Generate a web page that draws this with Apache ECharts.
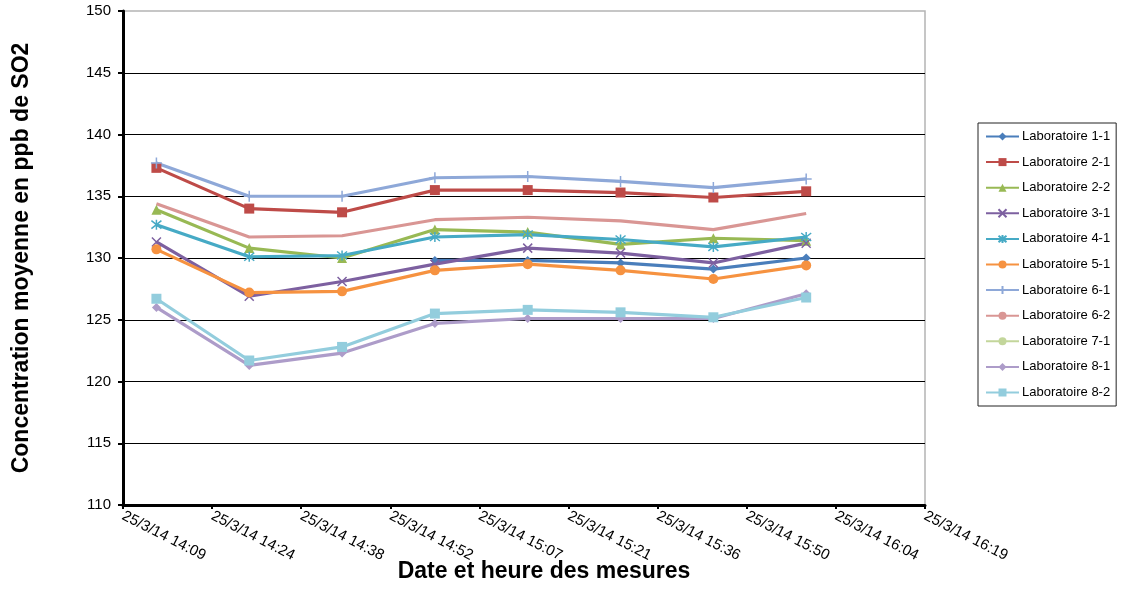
<!DOCTYPE html>
<html>
<head>
<meta charset="utf-8">
<script src="https://cdn.jsdelivr.net/npm/echarts@6/dist/echarts.min.js"></script>
<style>
  html, body { margin: 0; padding: 0; background: #fff; }
  #chart { width: 1123px; height: 590px; }
</style>
</head>
<body>
<div id="chart"></div>
<script>
// Measurement times (25/3/14) and mean SO2 concentrations in ppb per laboratory
const measureDate = '25/3/14';
const measureTimes = ['14:15', '14:30', '14:45', '15:00', '15:15', '15:30', '15:45', '16:00'];

const lab11 = [null, null, null, 129.8, 129.8, 129.6, 129.1, 130.0];
const lab21 = [137.3, 134.0, 133.7, 135.5, 135.5, 135.3, 134.9, 135.4];
const lab22 = [133.9, 130.8, 130.0, 132.3, 132.1, 131.1, 131.6, 131.4];
const lab31 = [131.3, 126.9, 128.1, 129.5, 130.8, 130.4, 129.6, 131.2];
const lab41 = [132.7, 130.1, 130.2, 131.7, 131.9, 131.5, 130.9, 131.7];
const lab51 = [130.7, 127.2, 127.3, 129.0, 129.5, 129.0, 128.3, 129.4];
const lab61 = [137.7, 135.0, 135.0, 136.5, 136.6, 136.2, 135.7, 136.4];
const lab62 = [134.4, 131.7, 131.8, 133.1, 133.3, 133.0, 132.3, 133.6];
const lab71 = [];
const lab81 = [126.0, 121.3, 122.3, 124.7, 125.1, 125.1, 125.1, 127.1];
const lab82 = [126.7, 121.7, 122.8, 125.5, 125.8, 125.6, 125.2, 126.8];

// Time axis runs in hundredths of a day (1 unit = 14.4 minutes)
const UNIT_MIN = 14.4;
function toUnits(hhmm) {
  const [h, m] = hhmm.split(':').map(Number);
  return (h * 60 + m) / UNIT_MIN;
}
function unitLabel(v) {
  const mins = Math.floor(Math.round(v * UNIT_MIN * 1000) / 1000 + 1e-9);
  const h = Math.floor(mins / 60);
  const m = mins % 60;
  return measureDate + ' ' + h + ':' + (m < 10 ? '0' : '') + m;
}

const SYM_X = 'path://M0,0L10,10M10,0L0,10';
const SYM_STAR = 'path://M1,1L9,9M9,1L1,9M5,0L5,10';
const SYM_PLUS = 'path://M5,0L5,10M0,5L10,5';

const seriesDefs = [
  { name: 'Laboratoire 1-1', data: lab11, color: '#4A7EBB', symbol: 'diamond', size: 9 },
  { name: 'Laboratoire 2-1', data: lab21, color: '#BE4B48', symbol: 'rect', size: 10 },
  { name: 'Laboratoire 2-2', data: lab22, color: '#98B954', symbol: 'triangle', size: 10 },
  { name: 'Laboratoire 3-1', data: lab31, color: '#7D60A0', symbol: SYM_X, size: 9, stroke: true },
  { name: 'Laboratoire 4-1', data: lab41, color: '#46AAC5', symbol: SYM_STAR, size: 10, stroke: true },
  { name: 'Laboratoire 5-1', data: lab51, color: '#F69240', symbol: 'circle', size: 10 },
  { name: 'Laboratoire 6-1', data: lab61, color: '#8EA8D8', symbol: SYM_PLUS, size: 11, stroke: true },
  { name: 'Laboratoire 6-2', data: lab62, color: '#D99694', symbol: 'none', size: 0 },
  { name: 'Laboratoire 7-1', data: lab71, color: '#C3D69B', symbol: 'none', size: 0 },
  { name: 'Laboratoire 8-1', data: lab81, color: '#AD9CC9', symbol: 'diamond', size: 9 },
  { name: 'Laboratoire 8-2', data: lab82, color: '#93CDDD', symbol: 'rect', size: 10 }
];

const series = seriesDefs.map(d => ({
  name: d.name,
  type: 'line',
  data: d.data.map((v, i) => [toUnits(measureTimes[i]), v]),
  symbol: d.symbol,
  symbolSize: d.size,
  showSymbol: d.symbol !== 'none',
  lineStyle: { color: d.color, width: 3.2 },
  itemStyle: d.stroke
    ? { color: 'rgba(0,0,0,0)', borderColor: d.color, borderWidth: 1.5 }
    : { color: d.color, borderWidth: 0 },
  emphasis: { disabled: true },
  connectNulls: false
}));

const chart = echarts.init(document.getElementById('chart'), null, { renderer: 'canvas' });
chart.setOption({
  animation: false,
  backgroundColor: '#fff',
  textStyle: { fontFamily: 'Liberation Sans, Arial, sans-serif' },
  grid: {
    left: 123, right: 198, top: 11, bottom: 85,
    containLabel: false,
    outerBoundsMode: 'none',
    show: true, borderColor: '#B4B4B4', borderWidth: 1.5, backgroundColor: 'transparent'
  },
  legend: {
    orient: 'vertical',
    left: 978, top: 123,
    width: 135,
    padding: [7, 6, 7, 7],
    itemWidth: 33, itemHeight: 10, itemGap: 12.6,
    borderColor: '#222', borderWidth: 1,
    textStyle: { fontSize: 13, color: '#000', padding: [0, 0, 0, -2] },
    data: seriesDefs.map(d => d.name)
  },
  xAxis: {
    type: 'value',
    min: 59, max: 68, interval: 1,
    name: 'Date et heure des mesures',
    nameLocation: 'middle',
    nameGap: 55,
    nameMoveOverlap: false,
    nameTextStyle: { fontSize: 23, fontWeight: 'bold', color: '#000', padding: [0, 0, 0, 40] },
    axisLine: { show: true, onZero: false, lineStyle: { color: '#000', width: 3 } },
    axisTick: { show: true, length: 4, lineStyle: { color: '#000', width: 2 } },
    splitLine: { show: false },
    axisLabel: {
      rotate: -27, fontSize: 15, color: '#000', margin: 10,
      showMinLabel: true, showMaxLabel: true,
      formatter: unitLabel
    }
  },
  yAxis: {
    type: 'value',
    min: 110, max: 150, interval: 5,
    name: 'Concentration moyenne en ppb de SO2',
    nameLocation: 'middle',
    nameGap: 90,
    nameMoveOverlap: false,
    nameTextStyle: { fontSize: 23, fontWeight: 'bold', color: '#000' },
    axisLine: { show: true, onZero: false, lineStyle: { color: '#000', width: 3 } },
    axisTick: { show: true, length: 5, lineStyle: { color: '#000', width: 2 } },
    splitLine: { show: true, showMaxLine: false, showMinLine: false, lineStyle: { color: '#000', width: 1 } },
    axisLabel: { fontSize: 15, color: '#000', margin: 12 }
  },
  series: series
});
</script>
</body>
</html>
